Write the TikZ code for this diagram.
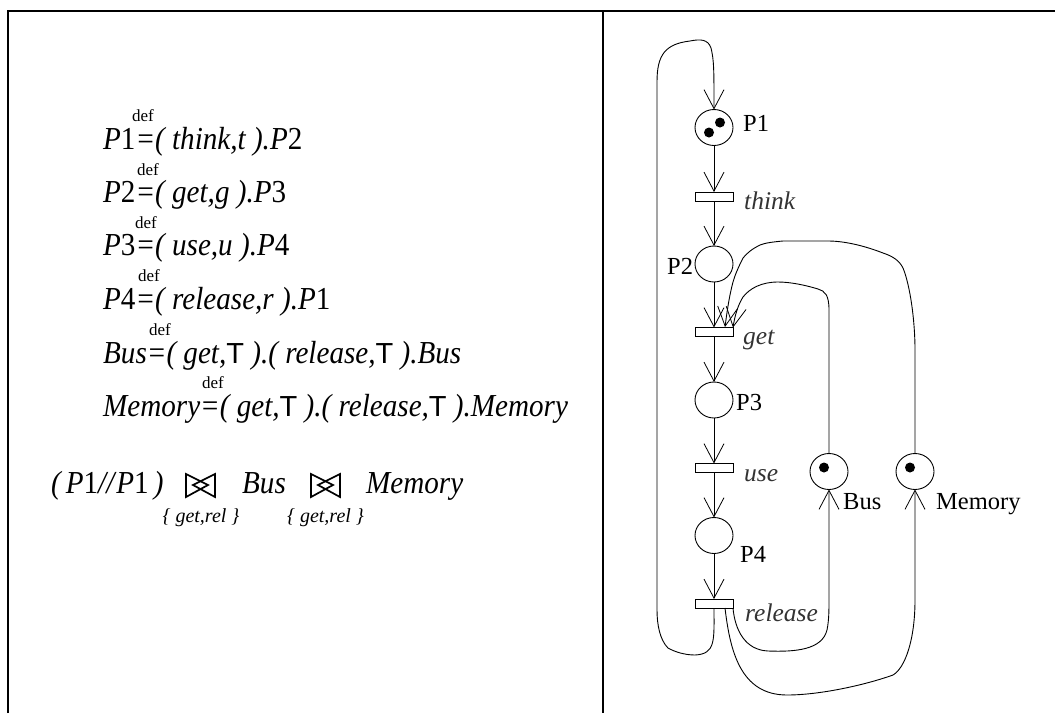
\documentclass[tikz,border=0pt]{standalone}
\usepackage{fontspec}
\setmainfont{Liberation Serif}
\newfontfamily\eqfont[FakeStretch=0.91]{Liberation Serif}
\newfontfamily\tfont{Liberation Sans}
\usetikzlibrary{arrows.meta,shapes.geometric}
\tikzset{
  x=1pt,y=-1pt,
  frameline/.style={line width=2pt,black},
  place/.style={draw,ellipse,line width=0.9pt,minimum width=38pt,minimum height=36pt,inner sep=0pt,outer sep=0pt,fill=white},
  trans/.style={draw,rectangle,line width=1pt,minimum width=38pt,minimum height=9pt,inner sep=0pt,outer sep=0pt,fill=white},
  token/.style={circle,fill=black,inner sep=0pt,minimum size=10pt},
  arc/.style={line width=0.9pt,-{Straight Barb[length=19pt,width=20pt,line width=0.8pt]}},
  bow/.style={line width=1.7pt},
  eqn/.style={anchor=base west,inner sep=0pt,font=\eqfont\fontsize{32}{32}\selectfont\itshape},
  defn/.style={anchor=base,inner sep=0pt,font=\fontsize{17}{17}\selectfont},
  sub/.style={anchor=base,inner sep=0pt,font=\fontsize{20}{20}\selectfont\itshape},
  lab/.style={anchor=base west,inner sep=0pt,font=\fontsize{24.5}{24.5}\selectfont},
  tlab/.style={anchor=base west,inner sep=0pt,font=\fontsize{25.5}{25.5}\selectfont\itshape,text=black!80},
}
\newcommand{\TT}{{\tfont\upshape\fontsize{29}{29}\selectfont T}}
\newcommand{\up}[1]{{\upshape #1}}
\begin{document}
\begin{tikzpicture}
\useasboundingbox (0,0) rectangle (1055,713);
\draw[frameline] (8,713) -- (8,10.5) -- (1055,10.5);
\draw[frameline] (603,10.5) -- (603,713);
% equations
\node[eqn] (e1) at (103,149) {P\up{1}=( think,t ).P\up{2}};
\node[eqn] (e2) at (103,202) {P\up{2}=( get,g ).P\up{3}};
\node[eqn] (e3) at (103,255) {P\up{3}=( use,u ).P\up{4}};
\node[eqn] (e4) at (103,309) {P\up{4}=( release,r ).P\up{1}};
\node[eqn] (e5) at (103,363) {Bus=( get,\TT\ ).( release,\TT\ ).Bus};
\node[eqn] (e6) at (103,416) {Memory=( get,\TT\ ).( release,\TT\ ).Memory};
\node[eqn] (e7) at (51,493) {(\kern5pt P\up{1}//\kern2pt P\up{1}\kern5pt)};
\node[eqn] (e8) at (242,493) {Bus};
\node[eqn] (e9) at (366,493) {Memory};
\node[defn] (d1) at (143,121) {def};
\node[defn] (d2) at (148,175) {def};
\node[defn] (d3) at (146,228) {def};
\node[defn] (d4) at (149,281) {def};
\node[defn] (d5) at (160,335) {def};
\node[defn] (d6) at (213,388) {def};
\node[sub] (s1) at (201,522) {\{ get,rel \}};
\node[sub] (s2) at (325.5,522) {\{ get,rel \}};
\draw[bow] (208,485) -- (186,474) -- (186,497) -- cycle;
\draw[bow] (193,485) -- (215,474) -- (215,497) -- cycle;
\draw[bow] (333,485) -- (311,474) -- (311,497) -- cycle;
\draw[bow] (318,485) -- (340,474) -- (340,497) -- cycle;
% net
\node[place] (P1) at (714,127.5) {};
\node[trans] (think) at (714,196.5) {};
\node[place] (P2) at (714,264) {};
\node[trans] (get) at (714,332) {};
\node[place] (P3) at (714,400) {};
\node[trans] (use) at (714,468) {};
\node[place] (P4) at (714,535.5) {};
\node[trans] (release) at (714,603.5) {};
\node[place] (Bus) at (829,471.5) {};
\node[place] (Memory) at (915,471.5) {};
\node[token] (t1) at (720,122.5) {};
\node[token] (t2) at (709,132.5) {};
\node[token] (t3) at (824,467.5) {};
\node[token] (t4) at (910,467.5) {};
\node[lab] (lP1) at (743,131) {P1};
\node[lab] (lP2) at (667,274) {P2};
\node[lab] (lP3) at (736,410) {P3};
\node[lab] (lP4) at (740,562) {P4};
\node[lab] (lB) at (843,509) {Bus};
\node[lab] (lM) at (936,509) {Memory};
\node[tlab] (lthink) at (744,209) {think};
\node[tlab] (lget) at (743,344) {get};
\node[tlab] (luse) at (744,481) {use};
\node[tlab] (lrel) at (745,621) {release};
\draw[arc] (P1) -- (think);
\draw[arc] (think) -- (P2);
\draw[arc] (P2) -- (get);
\draw[arc] (get) -- (P3);
\draw[arc] (P3) -- (use);
\draw[arc] (use) -- (P4);
\draw[arc] (P4) -- (release);
\draw[arc] (release.south) .. controls (714,640) and (716,654) .. (695,655)
  .. controls (685,655) and (675,652) .. (668,648)
  .. controls (660,640) and (657,625) .. (657,610) -- (657,82)
  .. controls (657,55) and (665,44) .. (690,41) .. controls (700,39) and (708,39) .. (711,48)
  .. controls (714,60) and (714,70) .. (P1.north);
\draw[arc] (Bus.north) -- (829,310) .. controls (829,295) and (825,291) .. (818,289)
  .. controls (805,285) and (790,282) .. (778,282) .. controls (762,282) and (750,288) .. (743,297)
  .. controls (738,305) and (735,315) .. (get.north east);
\draw[arc] (Memory.north) -- (915,350) .. controls (915,320) and (910,285) .. (903,268)
  .. controls (899,260) and (892,256) .. (883,253) .. controls (865,246) and (845,241) .. (828,241)
  -- (783,241) .. controls (772,242) and (765,243) .. (760,245) .. controls (752,249) and (747,253) .. (743,258)
  .. controls (738,268) and (735,275) .. (733,282) .. controls (729,297) and (727,312) .. (725,327);
\draw[arc] (733,608) .. controls (735,630) and (745,650) .. (768,651)
  .. controls (795,652) and (822,650) .. (827,630) .. controls (829,620) and (829,610) .. (829,600) -- (Bus.south);
\draw[arc] (725,608) .. controls (730,650) and (740,695) .. (787,695)
  .. controls (820,695) and (865,685) .. (893,675) .. controls (905,668) and (915,640) .. (915,600) -- (Memory.south);
\end{tikzpicture}
\end{document}
